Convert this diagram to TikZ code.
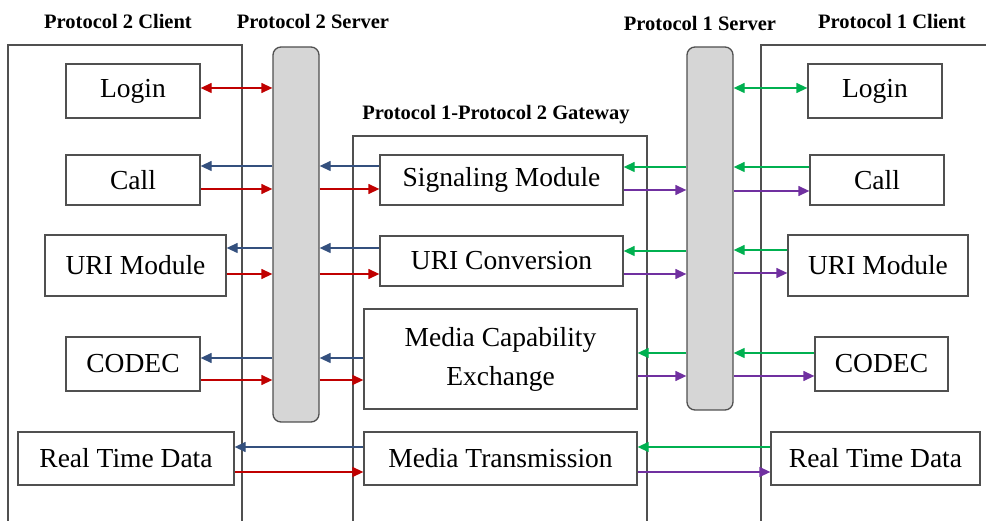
\documentclass[tikz,border=0pt]{standalone}
\usepackage{fontspec}
\setmainfont{Liberation Serif}
\usetikzlibrary{arrows.meta}
\definecolor{frame}{HTML}{505050}
\definecolor{srvfill}{HTML}{D6D6D6}
\definecolor{cred}{HTML}{C00000}
\definecolor{cblue}{HTML}{34507E}
\definecolor{cgreen}{HTML}{00B050}
\definecolor{cpurple}{HTML}{7030A0}
\begin{document}
\begin{tikzpicture}[x=1pt,y=-1pt,
  box/.style={draw=frame,line width=1.3pt,fill=white,inner sep=0pt,align=center,
    font=\fontsize{27.5}{32}\selectfont},
  srv/.style={draw=frame,line width=1.3pt,fill=srvfill,rounded corners=8pt,inner sep=0pt,minimum width=46pt},
  title/.style={font=\fontsize{20.5}{24}\selectfont\bfseries},
  outer/.style={draw=frame,line width=1.3pt},
  tip/.style={-{Triangle[length=11pt,width=10pt]}},
  dtip/.style={{Triangle[length=11pt,width=10pt]}-{Triangle[length=11pt,width=10pt]}},
  ar/.style={line width=1.3pt,tip},
  red/.style={ar,cred},
  blu/.style={ar,cblue},
  grn/.style={ar,cgreen},
  pur/.style={ar,cpurple}]
\useasboundingbox (0,0) rectangle (986,521);
% titles
\node[title] (t2c) at (118,21) {Protocol 2 Client};
\node[title] (t2s) at (313,21) {Protocol 2 Server};
\node[title] (t1s) at (700,23) {Protocol 1 Server};
\node[title] (t1c) at (892,21) {Protocol 1 Client};
\node[title] (tgw) at (496,115) {Protocol 1-Protocol 2 Gateway};
% outer frames (open at the bottom)
\draw[outer] (8,521) -- (8,45) -- (242,45) -- (242,521);
\draw[outer] (353,521) -- (353,136) -- (647,136) -- (647,521);
\draw[outer] (761,521) -- (761,45) -- (986,45);
% servers
\node[srv,minimum height=375pt] (s2) at (296,234.5) {};
\node[srv,minimum height=363pt] (s1) at (710,228.5) {};
% protocol 2 client
\node[box,minimum width=134pt,minimum height=54pt] (l2login) at (133,91) {Login};
\node[box,minimum width=134pt,minimum height=50pt] (l2call) at (133,180) {Call};
\node[box,minimum width=181pt,minimum height=61pt] (l2uri) at (135.5,265.5) {URI Module};
\node[box,minimum width=134pt,minimum height=54pt] (l2codec) at (133,364) {CODEC};
\node[box,minimum width=216pt,minimum height=53pt] (l2rtd) at (126,458.5) {Real Time Data};
% gateway
\node[box,minimum width=243pt,minimum height=50pt] (sig) at (501.5,180) {Signaling Module};
\node[box,minimum width=243pt,minimum height=50pt] (uric) at (501.5,261) {URI Conversion};
\node[box,minimum width=273pt,minimum height=100pt] (mce) at (500.5,359) {Media Capability\\[7pt]Exchange};
\node[box,minimum width=273pt,minimum height=53pt] (mt) at (500.5,458.5) {Media Transmission};
% protocol 1 client
\node[box,minimum width=134pt,minimum height=54pt] (r1login) at (875,91) {Login};
\node[box,minimum width=134pt,minimum height=50pt] (r1call) at (877,180) {Call};
\node[box,minimum width=180pt,minimum height=61pt] (r1uri) at (878,265.5) {URI Module};
\node[box,minimum width=133pt,minimum height=54pt] (r1codec) at (881.5,364) {CODEC};
\node[box,minimum width=209pt,minimum height=53pt] (r1rtd) at (875.5,458.5) {Real Time Data};
% --- Protocol 2 side arrows
\draw[line width=1.3pt,cred,dtip] (l2login.east |- 0,88) -- (s2.west |- 0,88);
\draw[blu] (s2.west |- 0,166) -- (l2call.east |- 0,166);
\draw[red] (l2call.east |- 0,189) -- (s2.west |- 0,189);
\draw[blu] (sig.west |- 0,166) -- (s2.east |- 0,166);
\draw[red] (s2.east |- 0,189) -- (sig.west |- 0,189);
\draw[blu] (s2.west |- 0,248) -- (l2uri.east |- 0,248);
\draw[red] (l2uri.east |- 0,274) -- (s2.west |- 0,274);
\draw[blu] (uric.west |- 0,248) -- (s2.east |- 0,248);
\draw[red] (s2.east |- 0,274) -- (uric.west |- 0,274);
\draw[blu] (s2.west |- 0,358) -- (l2codec.east |- 0,358);
\draw[red] (l2codec.east |- 0,380) -- (s2.west |- 0,380);
\draw[blu] (mce.west |- 0,358) -- (s2.east |- 0,358);
\draw[red] (s2.east |- 0,380) -- (mce.west |- 0,380);
\draw[blu] (mt.west |- 0,447) -- (l2rtd.east |- 0,447);
\draw[red] (l2rtd.east |- 0,472) -- (mt.west |- 0,472);
% --- Protocol 1 side arrows
\draw[line width=1.3pt,cgreen,dtip] (s1.east |- 0,88) -- (r1login.west |- 0,88);
\draw[grn] (s1.west |- 0,167) -- (sig.east |- 0,167);
\draw[pur] (sig.east |- 0,190) -- (s1.west |- 0,190);
\draw[grn] (r1call.west |- 0,167) -- (s1.east |- 0,167);
\draw[pur] (s1.east |- 0,191) -- (r1call.west |- 0,191);
\draw[grn] (s1.west |- 0,251) -- (uric.east |- 0,251);
\draw[pur] (uric.east |- 0,274) -- (s1.west |- 0,274);
\draw[grn] (r1uri.west |- 0,250) -- (s1.east |- 0,250);
\draw[pur] (s1.east |- 0,273) -- (r1uri.west |- 0,273);
\draw[grn] (s1.west |- 0,353) -- (mce.east |- 0,353);
\draw[pur] (mce.east |- 0,376) -- (s1.west |- 0,376);
\draw[grn] (r1codec.west |- 0,353) -- (s1.east |- 0,353);
\draw[pur] (s1.east |- 0,376) -- (r1codec.west |- 0,376);
\draw[grn] (r1rtd.west |- 0,447) -- (mt.east |- 0,447);
\draw[pur] (mt.east |- 0,472) -- (r1rtd.west |- 0,472);
\end{tikzpicture}
\end{document}
